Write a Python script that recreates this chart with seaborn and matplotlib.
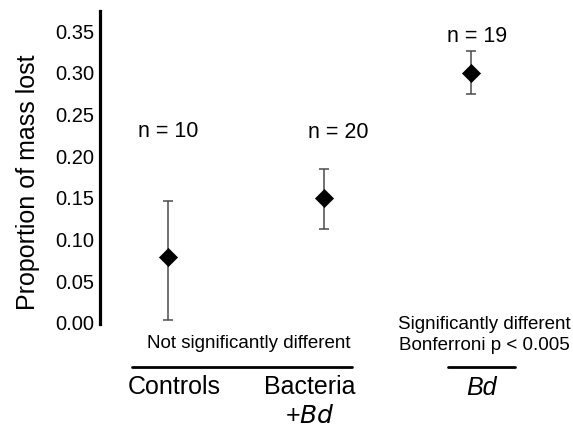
import matplotlib
matplotlib.use('Agg')
import matplotlib.pyplot as plt
from matplotlib.lines import Line2D
import seaborn as sns
import pandas as pd

# ── data ───────────────────────────────────────────────────────────────────
groups     = ['Controls', 'Bacteria +Bd', 'Bd']
group_x    = [0.0, 1.0, 1.94]          # groups are not evenly spaced
mean_loss  = [0.078, 0.149, 0.298]
err_low    = [0.002, 0.112, 0.273]
err_high   = [0.145, 0.183, 0.325]
n_labels   = ['n = 10', 'n = 20', 'n = 19']
y_ticks    = [0.00, 0.05, 0.10, 0.15, 0.20, 0.25, 0.30, 0.35]

df = pd.DataFrame({'group': groups, 'x': group_x, 'mean': mean_loss,
                   'lo': err_low, 'hi': err_high})

sns.set_style('white')
plt.rcParams['font.family'] = ['Liberation Sans', 'DejaVu Sans']
plt.rcParams['text.color'] = 'black'

fig = plt.figure(figsize=(5.73, 4.27), dpi=100)
W, H = 573, 427
ax = fig.add_axes([100 / W, (H - 325) / H, 473 / W, 313 / H])

# error bars (thin grey with caps)
ax.errorbar(df['x'], df['mean'],
            yerr=[df['mean'] - df['lo'], df['hi'] - df['mean']],
            fmt='none', ecolor='#4a4a4a', elinewidth=1.1,
            capsize=3.3, capthick=1.1, zorder=2)
# black diamonds
sns.scatterplot(data=df, x='x', y='mean', ax=ax, marker='D', s=85,
                color='black', edgecolor='black', linewidth=0.5,
                zorder=3, legend=False)

ax.set_xlim(-0.436, 2.596)
ax.set_ylim(-0.0024, 0.3728)
ax.set_yticks(y_ticks)
ax.set_yticklabels([f'{t:.2f}' for t in y_ticks])
ax.set_xticks([])
ax.set_xlabel('')
ax.set_ylabel('')
ax.tick_params(axis='y', length=0, pad=4, labelsize=14.5,
               colors='black', labelcolor='black')

for side in ['top', 'right', 'bottom']:
    ax.spines[side].set_visible(False)
ax.spines['left'].set_linewidth(2.3)
ax.spines['left'].set_color('black')

# n labels above each group
n_offsets = [0.0, 0.09, 0.04]
n_y       = [0.230, 0.228, 0.343]
for gx, off, ny, lab in zip(group_x, n_offsets, n_y, n_labels):
    ax.text(gx + off, ny, lab, ha='center', va='center', fontsize=15.5,
            color='black')

# y label
fig.text(28 / W, 1 - 182 / H, 'Proportion of mass lost', rotation=90,
         ha='center', va='center', fontsize=18, color='black')

# ── annotations below the axis ──────────────────────────────────────────────
def fy(py):
    return 1 - py / H

fig.text(249 / W, fy(344), 'Not significantly different',
         ha='center', va='center', fontsize=13.5)
fig.text(484 / W, fy(325), 'Significantly different',
         ha='center', va='center', fontsize=13.5)
fig.text(484 / W, fy(346), 'Bonferroni p < 0.005',
         ha='center', va='center', fontsize=13.5)

fig.add_artist(Line2D([132 / W, 352 / W], [fy(368), fy(368)],
                      color='black', linewidth=2.0))
fig.add_artist(Line2D([448 / W, 515 / W], [fy(368), fy(368)],
                      color='black', linewidth=2.0))

fig.text(174 / W, fy(387), 'Controls', ha='center', va='center', fontsize=18)
fig.text(310 / W, fy(387), 'Bacteria', ha='center', va='center', fontsize=18)
fig.text(310 / W, fy(416), '+$\\it{Bd}$', ha='center', va='center', fontsize=18)
fig.text(481 / W, fy(388), 'Bd', ha='center', va='center', fontsize=18,
         style='italic')

fig.savefig('out.png', dpi=100)
plt.close(fig)
